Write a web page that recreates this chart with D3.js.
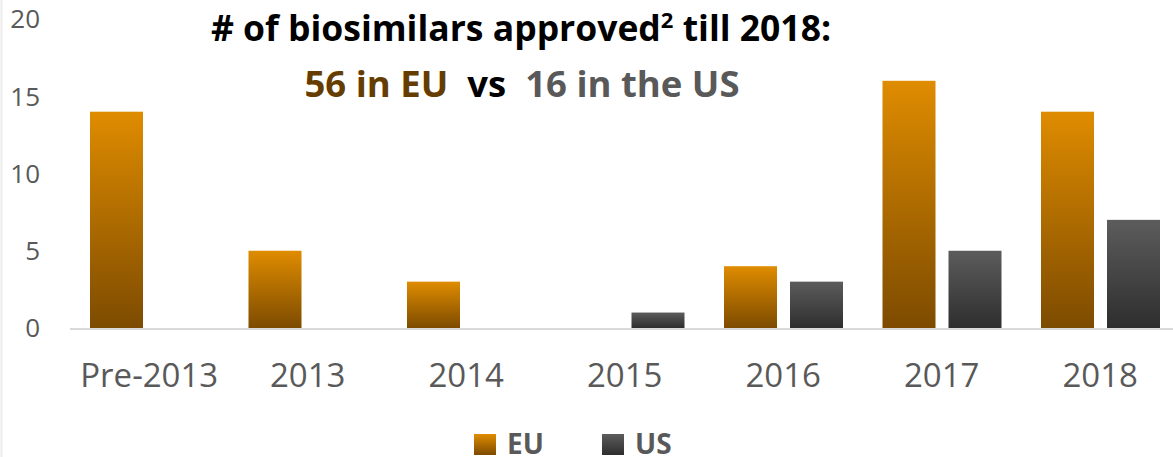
<!DOCTYPE html>
<html>
<head>
<meta charset="utf-8">
<script src="https://cdn.jsdelivr.net/npm/d3@7"></script>
<style>
  body { margin: 0; background: #fff; }
  text { font-family: "Open Sans", sans-serif; }
</style>
</head>
<body>
<div id="vis"></div>
<script>
// values
var categories = ["Pre-2013", "2013", "2014", "2015", "2016", "2017", "2018"];
var euValues = [14, 5, 3, 0, 4, 16, 14];
var usValues = [0, 0, 0, 1, 3, 5, 7];
var seriesNames = ["EU", "US"];
var yTicks = [0, 5, 10, 15, 20];

var width = 1173, height = 457;

var svg = d3.select("#vis")
  .append("svg")
  .attr("width", width)
  .attr("height", height);

var margin = {top: 19, left: 70},
  bandStep = 158.5,
  graphWidth = bandStep * categories.length,
  graphHeight = 328 - margin.top;

var x = d3.scaleBand().domain(categories).range([0, graphWidth]).padding(0);
var xs = d3.scaleBand().domain(seriesNames).range([20, 139]).paddingInner(0.197);
var y = d3.scaleLinear().domain([0, 20]).range([graphHeight, 0]);

// gradients per series
var defs = svg.append("defs");
var grads = {EU: ["#df8c00", "#7d4b00"], US: ["#5c5c5c", "#2e2e2e"]};
seriesNames.forEach(function(s) {
  var g = defs.append("linearGradient")
    .attr("id", "grad" + s)
    .attr("x1", 0).attr("y1", 0).attr("x2", 0).attr("y2", 1);
  g.append("stop").attr("offset", "0%").attr("stop-color", grads[s][0]);
  g.append("stop").attr("offset", "100%").attr("stop-color", grads[s][1]);
});

// faint frame edge at left
svg.append("line")
  .attr("x1", 1.5).attr("x2", 1.5).attr("y1", 0).attr("y2", height)
  .attr("stroke", "#ececec").attr("stroke-width", 2);

var graph = svg.append("g")
  .attr("transform", "translate(" + margin.left + "," + margin.top + ")");

// y axis labels
graph.selectAll(".ytick")
  .data(yTicks)
  .enter().append("text")
  .attr("class", "ytick")
  .attr("x", -30)
  .attr("y", function(d) { return y(d); })
  .attr("dy", "0.36em")
  .attr("text-anchor", "end")
  .attr("font-size", 26)
  .attr("fill", "#595959")
  .text(function(d) { return d; });

// bars
var rows = categories.map(function(c, i) {
  return {cat: c, values: [{s: "EU", v: euValues[i]}, {s: "US", v: usValues[i]}]};
});

var groups = graph.selectAll(".grp")
  .data(rows)
  .enter().append("g")
  .attr("class", "grp")
  .attr("transform", function(d) { return "translate(" + x(d.cat) + ",0)"; });

groups.selectAll("rect")
  .data(function(d) { return d.values.filter(function(e) { return e.v > 0; }); })
  .enter().append("rect")
  .attr("x", function(d) { return xs(d.s); })
  .attr("y", function(d) { return y(d.v); })
  .attr("width", xs.bandwidth())
  .attr("height", function(d) { return graphHeight - y(d.v); })
  .attr("fill", function(d) { return "url(#grad" + d.s + ")"; });

// x axis line
graph.append("line")
  .attr("x1", 0).attr("x2", graphWidth)
  .attr("y1", graphHeight + 1).attr("y2", graphHeight + 1)
  .attr("stroke", "#d9d9d9").attr("stroke-width", 2);

// x labels
graph.selectAll(".xlab")
  .data(categories)
  .enter().append("text")
  .attr("class", "xlab")
  .attr("x", function(d) { return x(d) + x.bandwidth() / 2; })
  .attr("y", 387 - margin.top)
  .attr("text-anchor", "middle")
  .attr("font-size", 33)
  .attr("fill", "#595959")
  .text(function(d) { return d; });

// title
var title = svg.append("text")
  .attr("x", 521).attr("y", 41)
  .attr("text-anchor", "middle")
  .attr("font-size", 35.5)
  .attr("font-weight", "bold")
  .attr("fill", "#000");
title.append("tspan").text("# of biosimilars approved");
title.append("tspan").attr("font-size", 22).attr("dy", -13).text("2");
title.append("tspan").attr("dy", 13).text(" till 2018:");

var sub = svg.append("text")
  .attr("x", 522).attr("y", 97)
  .attr("text-anchor", "middle")
  .attr("font-size", 36.5)
  .attr("font-weight", "bold")
  .attr("xml:space", "preserve");
sub.append("tspan").attr("fill", "#663d00").text("56 in EU");
sub.append("tspan").attr("fill", "#000").text("  vs  ");
sub.append("tspan").attr("fill", "#595959").text("16 in the US");

// legend
var legend = svg.append("g");
var legX = [474, 602];
seriesNames.forEach(function(s, i) {
  legend.append("rect")
    .attr("x", legX[i]).attr("y", 434)
    .attr("width", 22).attr("height", 21)
    .attr("fill", "url(#grad" + s + ")");
  legend.append("text")
    .attr("x", legX[i] + 33).attr("y", 454)
    .attr("font-size", 28)
    .attr("font-weight", "bold")
    .attr("fill", "#595959")
    .text(s);
});
</script>
</body>
</html>
